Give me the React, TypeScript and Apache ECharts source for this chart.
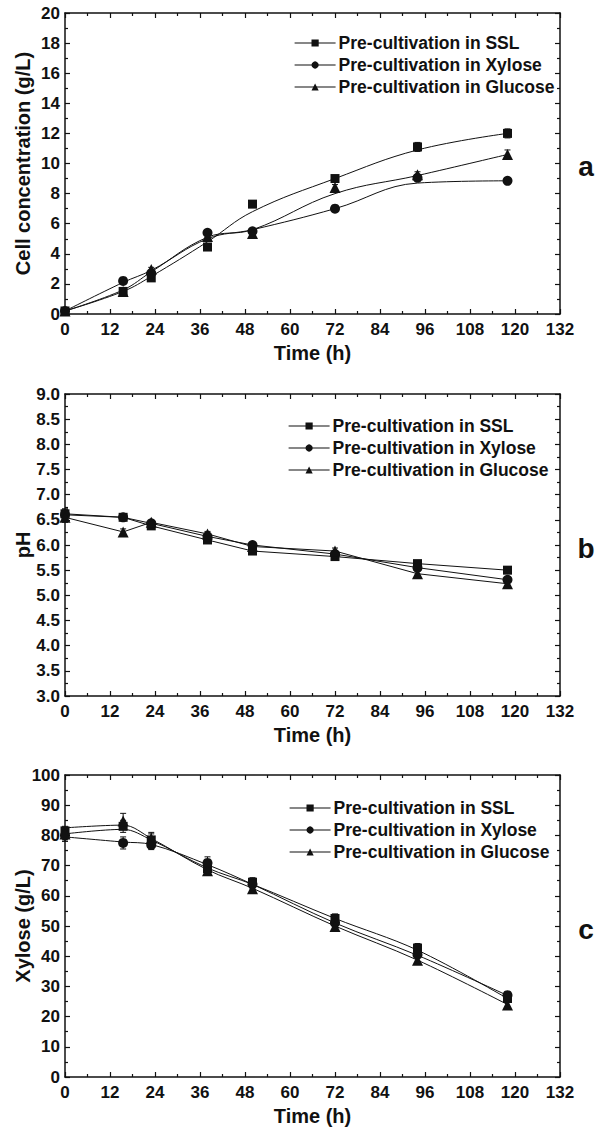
import React, { useEffect, useRef } from "react";
import * as echarts from "echarts";

// ---------- data ----------
const times = [0, 15.5, 23, 38, 50, 72, 94, 118];
const seriesNames = [
  "Pre-cultivation in SSL",
  "Pre-cultivation in Xylose",
  "Pre-cultivation in Glucose",
];
const symbols = ["rect", "circle", "triangle"];
const symbolSizes = [9, 10, 11];

// Panel a: cell concentration (g/L)
const cellSSL = [0.2, 1.5, 2.4, 4.45, 7.3, 9.0, 11.1, 12.0];
const cellXylose = [0.2, 2.2, 2.7, 5.4, 5.5, 7.0, 9.05, 8.85];
const cellGlucose = [0.2, 1.5, 2.95, 5.15, 5.35, 8.4, 9.25, 10.6];
const cellSSLErr = [0.1, 0.1, 0.15, 0.15, 0.15, 0.2, 0.3, 0.3];
const cellXyloseErr = [0.1, 0.1, 0.1, 0.15, 0.1, 0.15, 0.2, 0.2];
const cellGlucoseErr = [0.1, 0.1, 0.15, 0.1, 0.15, 0.2, 0.2, 0.3];
const cellSSLFit = [0.2, 1.5, 2.5, 4.8, 6.8, 9.0, 10.9, 12.0];
const cellXyloseFit = [0.2, 2.1, 2.9, 5.0, 5.6, 7.0, 8.7, 8.85];
const cellGlucoseFit = [0.2, 1.6, 2.8, 5.1, 5.6, 8.0, 9.2, 10.6];

// Panel b: pH
const pHSSL = [6.62, 6.55, 6.38, 6.1, 5.88, 5.77, 5.63, 5.5];
const pHXylose = [6.6, 6.55, 6.43, 6.17, 6.0, 5.82, 5.55, 5.31];
const pHGlucose = [6.55, 6.26, 6.45, 6.22, 5.97, 5.88, 5.43, 5.23];
const pHSSLErr = [0.1, 0.04, 0.04, 0.04, 0.04, 0.04, 0.05, 0.04];
const pHXyloseErr = [0.1, 0.04, 0.04, 0.04, 0.04, 0.04, 0.05, 0.05];
const pHGlucoseErr = [0.1, 0.06, 0.04, 0.05, 0.04, 0.06, 0.06, 0.06];

// Panel c: xylose (g/L)
const xylSSL = [81.5, 83, 78.5, 69, 64.5, 52.5, 42.7, 26];
const xylXylose = [80, 77.5, 76.8, 70.9, 63.8, 51, 40.5, 27.1];
const xylGlucose = [80.5, 84.8, 79, 68.3, 62.3, 49.8, 38.7, 23.8];
const xylSSLErr = [1.5, 2, 2, 1.5, 1.5, 1.5, 1.5, 1];
const xylXyloseErr = [2, 2, 1.5, 2, 1.5, 1.5, 1, 1];
const xylGlucoseErr = [2, 2.5, 2, 1.5, 1.5, 1.5, 1, 1];
const xylSSLFit = [80.5, 82, 78.5, 69.2, 63.8, 52.5, 42, 26];
const xylXyloseFit = [79.5, 77.8, 77, 70.3, 63.8, 51, 40.3, 27];
const xylGlucoseFit = [82.5, 83.4, 79, 68.6, 62.5, 50, 38.7, 24];

// ---------- styling ----------
const FONT = "'Liberation Sans', Arial, Helvetica, sans-serif";
const INK = "#111";

const panels = [
  {
    measured: [cellSSL, cellXylose, cellGlucose],
    errs: [cellSSLErr, cellXyloseErr, cellGlucoseErr],
    fits: [cellSSLFit, cellXyloseFit, cellGlucoseFit],
    smooth: 0.4,
    min: 0, max: 20, interval: 2, decimals: 0,
    yName: "Cell concentration (g/L)",
    letter: "a", top: 13, height: 301, legendLeft: 289, legendTop: 29,
  },
  {
    measured: [pHSSL, pHXylose, pHGlucose],
    errs: [pHSSLErr, pHXyloseErr, pHGlucoseErr],
    fits: null,
    smooth: false,
    min: 3, max: 9, interval: 0.5, decimals: 1,
    yName: "pH",
    letter: "b", top: 394, height: 302, legendLeft: 283, legendTop: 412,
  },
  {
    measured: [xylSSL, xylXylose, xylGlucose],
    errs: [xylSSLErr, xylXyloseErr, xylGlucoseErr],
    fits: [xylSSLFit, xylXyloseFit, xylGlucoseFit],
    smooth: 0.35,
    min: 0, max: 100, interval: 10, decimals: 0,
    yName: "Xylose (g/L)",
    letter: "c", top: 775, height: 302, legendLeft: 284, legendTop: 794,
  },
];

function errorRender(params: any, api: any) {
  const x = api.value(0);
  const lo = api.value(1);
  const hi = api.value(2);
  const a = api.coord([x, hi]);
  const b = api.coord([x, lo]);
  const w = 3;
  const style = { stroke: INK, lineWidth: 1 };
  return {
    type: "group",
    children: [
      { type: "line", shape: { x1: a[0], y1: a[1], x2: b[0], y2: b[1] }, style },
      { type: "line", shape: { x1: a[0] - w, y1: a[1], x2: a[0] + w, y2: a[1] }, style },
      { type: "line", shape: { x1: b[0] - w, y1: b[1], x2: b[0] + w, y2: b[1] }, style },
    ],
  };
}

function buildOption() {
  const grid: any[] = [];
  const xAxis: any[] = [];
  const yAxis: any[] = [];
  const series: any[] = [];
  const legend: any[] = [];
  const graphic: any[] = [];

  const axisLine = { show: true, onZero: false, lineStyle: { color: INK, width: 1.5 } };
  const axisTick = { show: true, inside: true, length: 5, lineStyle: { color: INK, width: 1.2 } };
  const minorTick = { show: true, splitNumber: 2, length: 3, lineStyle: { color: INK, width: 1.2 } };
  const labelStyle = { color: INK, fontWeight: "bold", fontSize: 17, fontFamily: FONT };
  const nameStyle = { color: INK, fontWeight: "bold", fontSize: 20, fontFamily: FONT };

  panels.forEach((p, gi) => {
    grid.push({
      left: 65, top: p.top, width: 495, height: p.height,
      containLabel: false, outerBoundsMode: "none",
    });

    xAxis.push({
      type: "value", gridIndex: gi, position: "bottom",
      min: 0, max: 132, interval: 12,
      axisLine, axisTick, minorTick, splitLine: { show: false },
      axisLabel: { ...labelStyle, margin: 7 },
      name: "Time (h)", nameLocation: "middle", nameGap: 29, nameMoveOverlap: false,
      nameTextStyle: nameStyle,
    });
    xAxis.push({
      type: "value", gridIndex: gi, position: "top",
      min: 0, max: 132, interval: 12,
      axisLine, axisTick, minorTick, splitLine: { show: false },
      axisLabel: { show: false },
    });
    yAxis.push({
      type: "value", gridIndex: gi, position: "left",
      min: p.min, max: p.max, interval: p.interval,
      axisLine, axisTick, minorTick, splitLine: { show: false },
      axisLabel: { ...labelStyle, margin: 5, formatter: (v: number) => v.toFixed(p.decimals) },
      name: p.yName, nameLocation: "middle", nameGap: 32, nameRotate: 90, nameMoveOverlap: false,
      nameTextStyle: nameStyle,
    });
    yAxis.push({
      type: "value", gridIndex: gi, position: "right",
      min: p.min, max: p.max, interval: p.interval,
      axisLine, axisTick, minorTick, splitLine: { show: false },
      axisLabel: { show: false },
    });

    const xi = gi * 2;
    const yi = gi * 2;

    p.measured.forEach((vals, si) => {
      series.push({
        type: "custom",
        name: "err-" + gi + "-" + si,
        xAxisIndex: xi, yAxisIndex: yi,
        renderItem: errorRender,
        encode: { x: 0, y: [1, 2] },
        data: times.map((t, k) => [t, vals[k] - p.errs[si][k], vals[k] + p.errs[si][k]]),
        z: 1, silent: true,
      });
      if (p.fits) {
        series.push({
          type: "line",
          name: "fit-" + gi + "-" + si,
          xAxisIndex: xi, yAxisIndex: yi,
          data: times.map((t, k) => [t, p.fits![si][k]]),
          smooth: p.smooth,
          showSymbol: false, symbol: "none",
          lineStyle: { color: INK, width: 1 },
          z: 2, silent: true,
        });
      }
      series.push({
        type: "line",
        name: seriesNames[si],
        xAxisIndex: xi, yAxisIndex: yi,
        data: times.map((t, k) => [t, vals[k]]),
        smooth: p.fits ? false : p.smooth,
        symbol: symbols[si],
        symbolSize: symbolSizes[si],
        showSymbol: true,
        itemStyle: { color: INK, borderWidth: 0 },
        lineStyle: { color: INK, width: 1, opacity: p.fits ? 0 : 1 },
        z: 3,
      });
    });

    legend.push({
      orient: "vertical",
      left: p.legendLeft, top: p.legendTop,
      itemWidth: 41, itemHeight: 9, itemGap: 4,
      data: seriesNames,
      selectedMode: false,
      textStyle: { color: INK, fontWeight: "bold", fontSize: 17.5, fontFamily: FONT, padding: [0, 0, 0, -2] },
      lineStyle: { color: INK, width: 1.2, opacity: 1 },
      itemStyle: { color: INK },
    });

    graphic.push({
      type: "text",
      x: 586, y: p.top + p.height * 0.51,
      style: {
        text: p.letter, fill: INK, fontSize: 28, fontWeight: "bold", fontFamily: FONT,
        align: "center", verticalAlign: "middle",
      },
    });
  });

  return {
    animation: false,
    backgroundColor: "#fff",
    textStyle: { fontFamily: FONT },
    grid, xAxis, yAxis, series, legend, graphic,
  };
}

export default function App() {
  const ref = useRef<HTMLDivElement>(null);
  useEffect(() => {
    if (!ref.current) return;
    const chart = echarts.init(ref.current, null, { renderer: "svg" });
    chart.setOption(buildOption() as any);
    return () => chart.dispose();
  }, []);
  return (
    <div
      ref={ref}
      style={{ position: "absolute", left: 0, top: 0, width: 601, height: 1127, background: "#fff" }}
    />
  );
}
